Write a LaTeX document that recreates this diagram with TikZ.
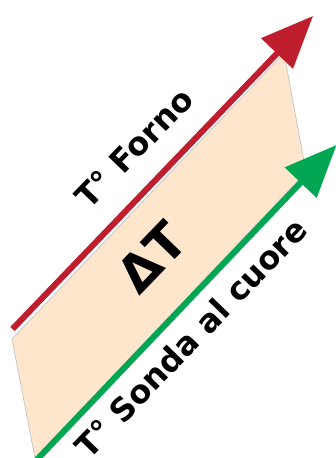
\documentclass[tikz,border=0pt]{standalone}
\usepackage{fontspec}
\setmainfont{DejaVu Sans}
\usetikzlibrary{arrows.meta}

\definecolor{fornored}{RGB}{190,30,45}
\definecolor{sondagreen}{RGB}{0,166,81}
\definecolor{deltapeach}{RGB}{253,230,204}
\definecolor{edgegray}{RGB}{200,200,200}

\begin{document}
\begin{tikzpicture}[x=0.75pt,y=-0.75pt,
  templine/.style={line width=4.5pt,-{Triangle[length=39pt,width=32pt]}},
  templabel/.style={font=\bfseries\fontsize{24}{28}\selectfont,rotate=46}]

  \useasboundingbox (0,0) rectangle (336,458);

  % band between the two temperatures
  \filldraw[fill=deltapeach,draw=edgegray,line width=0.6pt]
    (12,339) -- (284,53) -- (306,172) -- (35,458) -- cycle;

  % end points of the two lines
  \coordinate (fornoStart) at (12.5,329);
  \coordinate (fornoEnd) at (313,16);
  \coordinate (sondaStart) at (36.6,460);
  \coordinate (sondaEnd) at (336.5,145);

  \draw[templine,fornored] (fornoStart) -- (fornoEnd);
  \draw[templine,sondagreen] (sondaStart) -- (sondaEnd);

  % labels
  \node[templabel] (forno) at (134,148) {T° Forno};
  \node[templabel] (sonda) at (191,338) {T° Sonda al cuore};
  \node[font=\bfseries\fontsize{38}{42}\selectfont,rotate=46] (delta) at (152,257) {ΔT};

\end{tikzpicture}
\end{document}
